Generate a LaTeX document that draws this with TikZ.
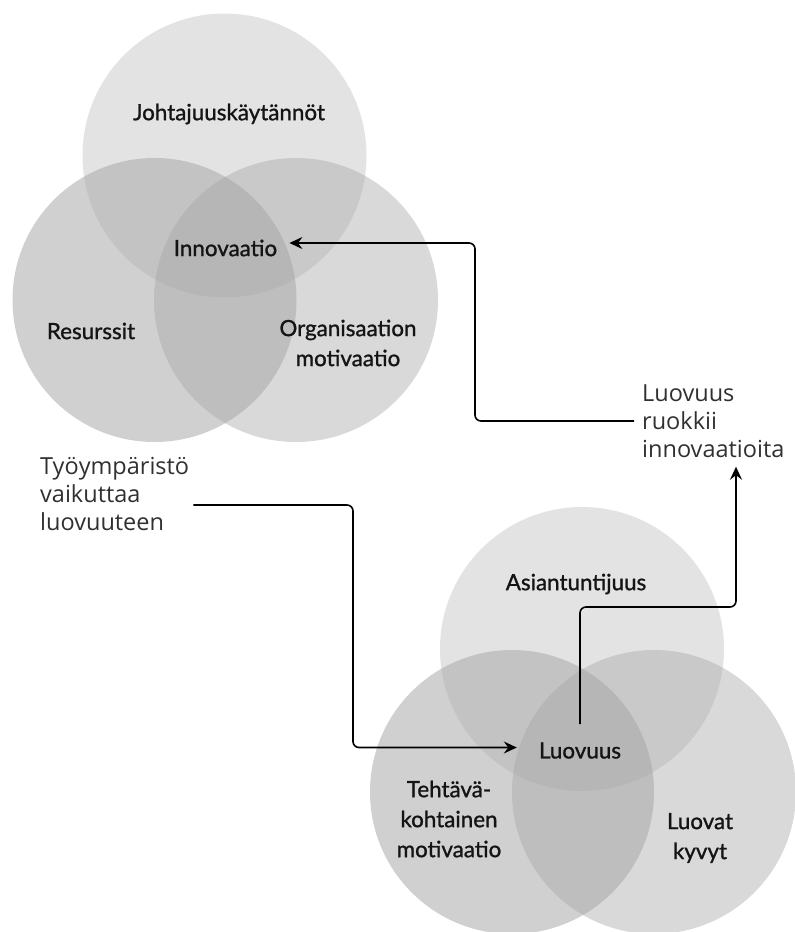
\documentclass[tikz,border=0pt]{standalone}
\usepackage{fontspec}
\setmainfont{Lato}
\newfontfamily\labelfont{Lato}[FakeBold=1.1]
\newfontfamily\notefont{Open Sans}
\usetikzlibrary{arrows.meta,calc}
\definecolor{setgray}{gray}{0.65}
\definecolor{labelink}{HTML}{141414}
\definecolor{noteink}{HTML}{303030}
\begin{document}
\begin{tikzpicture}[x=1pt,y=-1pt,
  setcircle/.style={circle,minimum size=284pt,inner sep=0pt,fill=setgray},
  backset/.style={setcircle,fill opacity=0.31},
  rightset/.style={setcircle,fill opacity=0.43},
  leftset/.style={setcircle,fill opacity=0.53},
  setlabel/.style={font=\labelfont\fontsize{22.4}{30}\selectfont,text=labelink,align=center,inner sep=0pt},
  note/.style={font=\notefont\fontsize{23.5}{28}\selectfont,text=noteink,align=left,inner sep=0pt},
  link/.style={draw=black,line width=1.6pt,rounded corners=6pt,
    -{Stealth[length=13pt,width=12pt,inset=4.5pt]}}
]
\useasboundingbox (0,0) rectangle (795,932);

% innovation model
\node[backset]  (lead) at (224.5,155.5) {};
\node[rightset] (orgm) at (296,300) {};
\node[leftset]  (res)  at (154.5,300) {};

\node[setlabel] (leadT)  at (229,114) {Johtajuuskäytännöt};
\node[setlabel] (innov)  at (225.5,248) {Innovaatio};
\node[setlabel] (resT)   at (91,331) {Resurssit};
\node[setlabel] (orgmT)  at (348,343) {Organisaation\\motivaatio};

% creativity model
\node[backset]  (exp)  at (582,649) {};
\node[rightset] (abil) at (654,792) {};
\node[leftset]  (task) at (512,792) {};

\node[setlabel] (expT)  at (576,584) {Asiantuntijuus};
\node[setlabel] (luo)   at (580,750.5) {Luovuus};
\node[setlabel] (taskT) at (449,819) {Tehtävä-\\kohtainen\\motivaatio};
\node[setlabel] (abilT) at (700,838) {Luovat\\kyvyt};

% annotations
\node[note,anchor=west] (feed) at (642,421) {Luovuus\\ruokkii\\innovaatioita};
\node[note,anchor=west] (env)  at (40,494) {Työympäristö\\vaikuttaa\\luovuuteen};

% connector rails
\coordinate (railA) at (475,0);
\coordinate (railB) at (353,0);
\coordinate (railC) at (0,607);
\coordinate (railD) at (736,0);
\coordinate (railE) at (0,505);

\draw[link] ($(feed.west)+(-8,0)$) -- ($(feed.west -| railA)$)
  |- ($(innov.east)+(12,-5)$);
\draw[link] ($(env.east |- railE)+(4,0)$) -- ($(railB |- railE)$)
  |- ($(luo.west)+(-22,-3)$);
\draw[link] ($(luo.north)+(0,-18)$) -- ($(luo.north |- railC)$)
  -| ($(feed.south -| railD)+(0,9)$);
\end{tikzpicture}
\end{document}
